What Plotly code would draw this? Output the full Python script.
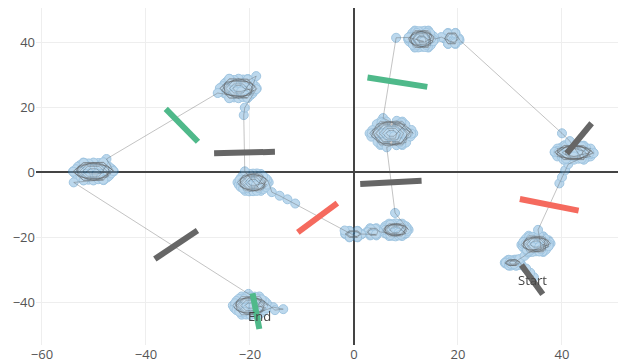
import plotly.graph_objects as go

# ---- trajectory clusters (x, y) in path order ----
cluster_a = [(34.6,-32.4),(33.9,-31.0),(33.1,-29.7),(32.2,-28.6),
    (32.0,-27.9),(31.25,-27.0),(29.75,-27.0),(29.0,-27.9),(29.75,-28.8),(31.25,-28.8),
    (31.4,-27.55),(30.5,-27.2),(29.6,-27.55),(29.6,-28.25),(30.5,-28.6),(31.4,-28.25),
    (31.88,-27.65),(30.87,-26.98),(29.49,-27.23),(29.12,-28.15),(30.13,-28.82),(31.51,-28.57),
    (31.85,-27.8),(31.2,-27.0),(29.9,-27.1),(29.2,-27.9),(29.8,-28.7),(31.1,-28.8),
    (31.1,-27.9),(30.8,-27.5),(30.2,-27.5),(29.9,-27.9),(30.2,-28.3),(30.8,-28.3),
    (31.8,-26.8),(32.8,-25.8)]
cluster_b = [(33.5,-24.8),
    (37.8,-22.0),(36.4,-19.8),(33.6,-19.6),(32.2,-22.4),(33.6,-24.7),(36.4,-24.6),
    (37.4,-21.0),(35.0,-20.0),(32.7,-21.2),(32.6,-23.3),(35.0,-24.4),(37.3,-23.1),
    (37.57,-21.56),(35.69,-19.81),(33.12,-20.45),(32.43,-22.84),(34.31,-24.59),(36.88,-23.95),
    (36.7,-22.1),(35.8,-20.6),(34.2,-20.6),(33.3,-22.2),(34.2,-23.8),(35.8,-23.7),
    (37.5,-22.3),(36.3,-20.0),(33.7,-20.0),(32.5,-22.1),(33.7,-24.4),(36.3,-24.4),
    (36.78,-20.55),(34.35,-19.94),(32.57,-21.59),(33.22,-23.85),(35.65,-24.46),(37.43,-22.81),
    (36.1,-22.2),(35.6,-21.2),(34.4,-21.3),(33.9,-22.2),(34.4,-23.1),(35.6,-23.1),
    (37.0,-21.9),(36.0,-20.4),(34.0,-20.4),(33.0,-22.1),(34.0,-23.9),(36.0,-23.8),
    (35.6,-19.5),(35.4,-17.8)]
cluster_c = [(39.5,-3.5),(40.0,-1.6),(40.6,0.5),(41.2,2.4),
    (46.0,6.0),(44.2,8.1),(40.4,8.1),(38.6,6.0),(40.4,3.9),(44.2,3.9),
    (45.3,6.2),(43.8,7.8),(40.8,7.8),(39.3,6.1),(40.8,4.2),(43.8,4.3),
    (45.70,6.54),(43.21,8.02),(39.81,7.48),(38.90,5.46),(41.39,3.98),(44.79,4.52),
    (45.5,7.2),(42.3,8.2),(39.1,7.2),(39.1,4.8),(42.3,3.8),(45.5,4.8),
    (44.5,6.0),(43.4,7.3),(41.2,7.3),(40.1,6.0),(41.2,4.7),(43.4,4.7),
    (44.65,7.40),(41.44,7.91),(39.08,6.51),(39.95,4.60),(43.16,4.09),(45.52,5.49),
    (46.1,5.8),(44.1,8.0),(40.5,8.2),(38.6,6.2),(40.3,3.8),(44.2,3.8),
    (43.9,6.6),(42.3,7.2),(40.7,6.6),(40.7,5.4),(42.3,4.8),(43.9,5.4),
    (45.3,5.9),(43.8,7.9),(40.8,7.9),(39.3,6.0),(40.8,4.1),(43.8,4.1),
    (41.5,9.5),(40.0,11.9)]
cluster_d = [(20.3,40.6),
    (20.2,41.1),(19.5,42.8),(18.1,42.8),(17.4,41.1),(18.1,39.4),(19.5,39.4),
    (19.8,41.3),(19.3,42.4),(18.3,42.4),(17.8,41.2),(18.3,40.0),(19.3,40.0),
    (20.1,40.9),(19.5,42.7),(18.0,42.6),(17.5,41.0),(18.1,39.5),(19.4,39.6),
    (16.8,41.5),
    (15.6,40.9),(14.3,43.5),(11.7,43.5),(10.4,40.9),(11.7,38.3),(14.3,38.3),
    (15.0,42.1),(13.0,43.3),(11.0,42.1),(11.0,39.7),(13.0,38.5),(15.0,39.7),
    (15.39,41.59),(13.64,43.47),(11.25,42.78),(10.61,40.21),(12.36,38.33),(14.75,39.02),
    (14.6,41.0),(13.8,42.5),(12.2,42.5),(11.4,40.9),(12.2,39.3),(13.8,39.4),
    (15.3,40.8),(14.2,43.3),(11.8,43.3),(10.6,41.0),(11.8,38.5),(14.2,38.5),
    (14.65,42.68),(12.39,43.33),(10.74,41.55),(11.35,39.12),(13.61,38.47),(15.26,40.25),
    (14.0,40.9),(13.5,41.9),(12.5,41.9),(12.0,40.9),(12.5,39.9),(13.5,39.9),
    (14.8,41.0),(13.9,42.8),(12.1,42.8),(11.2,40.9),(12.1,39.1),(13.9,39.1),
    (13.8,40.9),(13.4,41.6),(12.6,41.6),(12.2,40.9),(12.6,40.2),(13.4,40.2),
    (10.5,41.4),(8.1,41.3)]
cluster_e = [(5.6,16.6),
    (11.4,11.9),(9.3,15.5),(5.1,15.5),(3.0,11.9),(5.1,8.3),(9.3,8.3),
    (10.8,12.0),(9.0,15.0),(5.4,15.0),(3.6,11.9),(5.4,8.8),(9.0,8.8),
    (11.05,12.93),(8.23,15.75),(4.38,14.72),(3.35,10.87),(6.17,8.05),(10.02,9.08),
    (10.1,11.9),(8.7,14.4),(5.7,14.4),(4.3,11.9),(5.7,9.4),(8.7,9.4),
    (9.5,11.9),(8.4,13.9),(6.0,13.9),(4.9,11.9),(6.0,9.9),(8.4,9.9),
    (8.9,11.9),(8.0,13.4),(6.4,13.4),(5.5,11.9),(6.4,10.4),(8.0,10.4),
    (8.2,11.9),(7.7,12.8),(6.7,12.8),(6.2,11.9),(6.7,11.0),(7.7,11.0),
    (9.87,14.57),(6.22,15.55),(3.55,12.88),(4.53,9.23),(8.18,8.25),(10.85,10.92),
    (11.0,11.8),(9.1,15.2),(5.3,15.2),(3.4,11.9),(5.3,8.6),(9.1,8.6),
    (10.4,11.9),(8.8,14.6),(5.6,14.7),(4.1,11.9),(5.6,9.2),(8.8,9.1),
    (6.3,7.6)]
cluster_f = [(7.9,-12.6),
    (10.5,-17.8),(9.25,-15.9),(6.75,-15.9),(5.5,-17.8),(6.75,-19.7),(9.25,-19.7),
    (9.75,-17.8),(8.9,-16.5),(7.1,-16.5),(6.25,-17.8),(7.1,-19.1),(8.9,-19.1),
    (10.30,-17.31),(8.62,-15.96),(6.32,-16.46),(5.70,-18.29),(7.38,-19.64),(9.68,-19.14),
    (10.0,-16.7),(8.0,-15.8),(6.0,-16.7),(6.0,-18.9),(8.0,-19.8),(10.0,-18.9),
    (9.1,-17.8),(8.6,-16.9),(7.4,-16.9),(6.9,-17.8),(7.4,-18.7),(8.6,-18.7),
    (9.59,-16.53),(7.42,-16.06),(5.83,-17.33),(6.41,-19.07),(8.58,-19.54),(10.17,-18.27),
    (10.0,-17.7),(9.0,-16.2),(7.0,-16.2),(6.0,-17.8),(7.0,-19.4),(9.0,-19.3),
    (4.9,-18.4),(4.3,-17.3),(3.1,-17.3),(2.5,-18.4),(3.1,-19.5),(4.3,-19.5),
    (4.6,-18.2),(4.1,-17.5),(3.2,-17.6),(2.7,-18.5),(3.3,-19.3),(4.2,-19.2),
    (1.5,-19.1),(0.7,-18.1),(-0.9,-18.1),(-1.7,-19.1),(-0.9,-20.1),(0.7,-20.1),
    (1.1,-19.0),(0.5,-18.4),(-0.7,-18.4),(-1.3,-19.1),(-0.7,-19.8),(0.5,-19.8),
    (1.4,-19.2),(0.6,-18.2),(-0.8,-18.2),(-1.6,-19.0),(-0.8,-20.0),(0.6,-20.0),
    (-1.8,-18.0)]
cluster_g = [(-11.3,-9.7),(-12.8,-8.4),(-14.3,-7.3),(-15.8,-6.2),
    (-16.4,-3.2),(-17.9,-0.6),(-20.9,-0.6),(-22.4,-3.2),(-20.9,-5.8),(-17.9,-5.8),
    (-17.0,-3.1),(-18.2,-1.1),(-20.6,-1.1),(-21.8,-3.2),(-20.6,-5.3),(-18.2,-5.3),
    (-16.65,-2.46),(-18.66,-0.45),(-21.42,-1.18),(-22.15,-3.94),(-20.14,-5.95),(-17.38,-5.22),
    (-17.0,-1.9),(-19.4,-0.5),(-21.8,-1.9),(-21.8,-4.6),(-19.4,-5.9),(-17.0,-4.6),
    (-17.8,-3.2),(-18.6,-1.8),(-20.2,-1.8),(-21.0,-3.2),(-20.2,-4.6),(-18.6,-4.6),
    (-17.49,-1.29),(-20.10,-0.59),(-22.01,-2.50),(-21.31,-5.11),(-18.70,-5.81),(-16.79,-3.90),
    (-18.4,-3.2),(-18.9,-2.3),(-19.9,-2.3),(-20.4,-3.2),(-19.9,-4.1),(-18.9,-4.1),
    (-17.3,-3.3),(-18.3,-1.4),(-20.5,-1.4),(-21.5,-3.2),(-20.5,-5.0),(-18.3,-5.0),
    (-21.0,0.2)]
cluster_h = [(-21.2,17.5),(-21.0,19.8),
    (-18.7,25.7),(-20.45,28.6),(-23.95,28.6),(-25.7,25.7),(-23.95,22.8),(-20.45,22.8),
    (-19.4,25.8),(-20.8,28.0),(-23.6,28.0),(-25.0,25.7),(-23.6,23.4),(-20.8,23.4),
    (-18.98,26.44),(-21.34,28.45),(-24.55,27.71),(-25.42,24.96),(-23.06,22.95),(-19.85,23.69),
    (-19.5,27.2),(-22.2,28.7),(-24.9,27.2),(-24.9,24.2),(-22.2,22.7),(-19.5,24.2),
    (-20.4,25.7),(-21.3,27.1),(-23.1,27.1),(-24.0,25.7),(-23.1,24.3),(-21.3,24.3),
    (-19.97,27.61),(-23.02,28.31),(-25.24,26.40),(-24.43,23.79),(-21.38,23.09),(-19.16,25.00),
    (-21.1,25.7),(-21.7,26.6),(-22.7,26.6),(-23.3,25.7),(-22.7,24.8),(-21.7,24.8),
    (-19.8,25.6),(-18.8,29.5),(-20.9,27.7),(-23.4,27.8),(-24.6,25.7),(-23.4,23.7),(-20.9,23.6),
    (-18.8,25.5),(-20.4,28.5),(-24.0,28.7),(-25.8,25.8),(-24.0,22.7),(-20.5,22.8),
    (-26.2,24.3)]
cluster_i = [(-47.6,4.0),
    (-46.2,0.2),(-48.15,2.9),(-52.05,2.9),(-54.0,0.2),(-52.05,-2.5),(-48.15,-2.5),
    (-46.9,0.3),(-48.5,2.7),(-51.7,2.7),(-53.2,0.2),(-51.7,-2.0),(-48.5,-2.1),
    (-46.53,0.89),(-49.14,2.77),(-52.72,2.08),(-53.67,-0.49),(-51.06,-2.37),(-47.48,-1.68),
    (-47.1,1.6),(-50.1,2.9),(-53.1,1.6),(-53.1,-1.2),(-50.1,-2.6),(-47.1,-1.2),
    (-48.0,0.2),(-49.0,1.7),(-51.2,1.7),(-52.2,0.2),(-51.2,-1.3),(-49.0,-1.3),
    (-47.62,1.98),(-51.01,2.63),(-53.49,0.85),(-52.58,-1.58),(-49.19,-2.23),(-46.71,-0.45),
    (-48.9,0.2),(-49.5,1.0),(-50.7,1.0),(-51.3,0.2),(-50.7,-0.6),(-49.5,-0.6),
    (-47.4,0.1),(-48.7,2.1),(-51.5,2.1),(-52.8,0.2),(-51.5,-1.7),(-48.7,-1.8),
    (-46.3,0.3),(-48.2,3.0),(-52.0,2.8),(-54.0,0.1),(-52.0,-2.6),(-48.2,-2.4),
    (-53.9,-3.2)]
cluster_j = [(-20.3,-37.5),
    (-16.5,-41.1),(-18.2,-38.3),(-21.6,-38.3),(-23.3,-41.1),(-21.6,-43.9),(-18.2,-43.9),
    (-17.2,-41.0),(-18.5,-38.9),(-21.3,-38.9),(-22.6,-41.1),(-21.3,-43.3),(-18.5,-43.3),
    (-15.5,-41.6),(-13.6,-42.2),(-15.2,-42.5),
    (-16.78,-40.36),(-19.06,-38.35),(-22.18,-39.08),(-23.02,-41.84),(-20.74,-43.85),(-17.62,-43.12),
    (-17.2,-39.7),(-19.9,-38.3),(-22.6,-39.7),(-22.6,-42.5),(-19.9,-44.0),(-17.2,-42.5),
    (-18.0,-41.1),(-19.0,-39.6),(-20.8,-39.6),(-21.8,-41.1),(-20.8,-42.6),(-19.0,-42.6),
    (-17.74,-39.19),(-20.69,-38.49),(-22.86,-40.40),(-22.06,-43.01),(-19.11,-43.71),(-16.94,-41.80),
    (-18.9,-41.1),(-19.4,-40.3),(-20.4,-40.3),(-20.9,-41.1),(-20.4,-41.9),(-19.4,-41.9),
    (-17.5,-41.2),(-18.7,-39.1),(-21.1,-39.1),(-22.3,-41.1),(-21.1,-43.0),(-18.7,-43.1),
    (-19.3,-41.3)]

# ---- heading bars: (x0, y0, x1, y1) and colour ----
bar_x0 = [-36.2, -26.9, 2.6, 1.2, 40.9, 31.9, -10.8, -38.3, -19.5, 32.2]
bar_y0 = [19.4, 5.8, 29.1, -3.7, 5.7, -8.3, -18.6, -26.8, -37.3, -28.6]
bar_x1 = [-30.0, -15.2, 14.1, 13.0, 45.7, 43.2, -3.2, -30.1, -18.2, 36.3]
bar_y1 = [9.3, 6.2, 26.2, -2.7, 15.0, -11.9, -9.6, -18.0, -48.3, -37.6]
bar_kind = ["green", "gray", "green", "gray", "gray", "red", "red", "gray", "green", "gray"]

labels = ["Start", "End"]
label_x = [34.4, -18.1]
label_y = [-33.3, -44.2]

palette = {"green": "#4fb98a", "gray": "#666666", "red": "#f56a5e"}

path = (cluster_a + cluster_b + cluster_c + cluster_d + cluster_e + cluster_f
        + cluster_g + cluster_h + cluster_i + cluster_j)
px = [p[0] for p in path]
py = [p[1] for p in path]

fig = go.Figure()
# markers merged into soft blobs (trace-level opacity)
fig.add_trace(go.Scatter(
    x=px, y=py, mode="markers", opacity=0.45,
    marker=dict(size=9, color="#6aa8d6", line=dict(width=1, color="#2a7dba")),
    hoverinfo="skip"))
# path line on top
fig.add_trace(go.Scatter(
    x=px, y=py, mode="lines",
    line=dict(color="rgba(90,90,90,0.36)", width=1),
    hoverinfo="skip"))

for k in range(len(bar_x0)):
    fig.add_trace(go.Scatter(
        x=[bar_x0[k], bar_x1[k]], y=[bar_y0[k], bar_y1[k]], mode="lines",
        line=dict(color=palette[bar_kind[k]], width=6)))

for t, lx, ly in zip(labels, label_x, label_y):
    fig.add_annotation(x=lx, y=ly, text=t, showarrow=False,
                       font=dict(size=13, color="#444"))

axis_common = dict(showgrid=True, gridcolor="#eeeeee", gridwidth=1,
                   zeroline=True, zerolinecolor="#444444", zerolinewidth=1.5,
                   dtick=20, tickfont=dict(size=13, color="#555555"),
                   showline=False, ticks="", automargin=False)
fig.update_layout(
    template="plotly_white",
    width=626, height=364,
    margin=dict(l=28, r=0, t=0, b=27),
    showlegend=False,
    font=dict(family="Open Sans, sans-serif"),
    plot_bgcolor="white", paper_bgcolor="white",
    xaxis=dict(range=[-61.15, 53.85], **axis_common),
    yaxis=dict(range=[-53.23, 50.46], **axis_common),
)
fig.write_html("out.html")
